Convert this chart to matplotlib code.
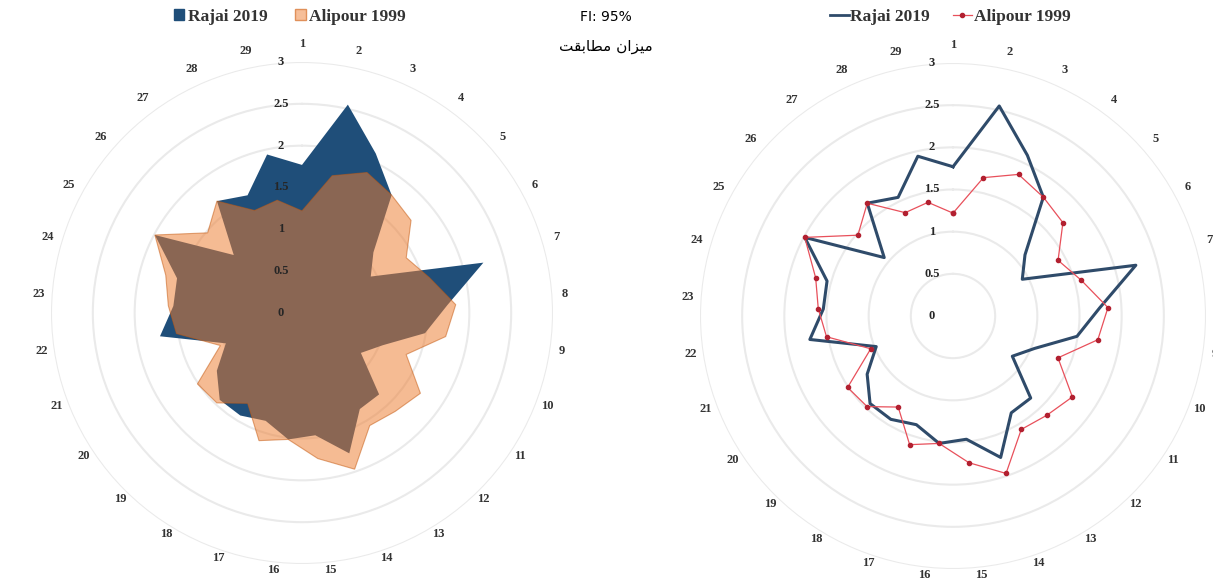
import numpy as np
import matplotlib
matplotlib.use("Agg")
from matplotlib import pyplot as plt
from matplotlib.patches import Patch
from matplotlib.lines import Line2D
from matplotlib.transforms import offset_copy

# Data (29 categories)
categories = [str(i) for i in range(1, 30)]
rajai_2019 = [1.77, 2.55, 2.10, 1.77, 1.12, 0.93, 2.25, 1.74, 1.49, 1.04,
              0.85, 1.34, 1.34, 1.77, 1.47, 1.52, 1.36, 1.43, 1.43, 1.23,
              0.98, 1.72, 1.54, 1.55, 1.99, 1.07, 1.68, 1.55, 1.94]
alipour_1999 = [1.22, 1.68, 1.85, 1.77, 1.71, 1.41, 1.58, 1.84, 1.74, 1.34,
                1.71, 1.62, 1.57, 1.97, 1.75, 1.52, 1.61, 1.26, 1.48, 1.51,
                1.05, 1.52, 1.60, 1.69, 1.99, 1.48, 1.68, 1.35, 1.38]
r_ticks = [0, 0.5, 1, 1.5, 2, 2.5, 3]
r_tick_labels = ["0", "0.5", "1", "1.5", "2", "2.5", "3"]
fit_text = "FI: 95%"
# "میزان مطابقت" written with Arabic presentation forms in visual order
persian_label = "\uFE96\uFED8\uFE91\uFE8E\uFEC4\uFEE3 \uFEE5\uFE8D\uFEB0\uFBFF\uFEE3"

W, H = 1213, 581
SERIF = "Liberation Serif"
BLUE = "#1F4E79"
ORANGE = "#ED7D31"
LINE_BLUE = "#2F4B6A"
LINE_RED = "#E8505B"

theta = np.linspace(0, 2 * np.pi, len(categories), endpoint=False)
theta_c = np.append(theta, theta[0])
raj = np.append(rajai_2019, rajai_2019[0])
ali = np.append(alipour_1999, alipour_1999[0])

fig = plt.figure(figsize=(W / 100, H / 100), dpi=100)


def polar_axes(cx, cy, R):
    ax = fig.add_axes([(cx - R) / W, (H - cy - R) / H, 2 * R / W, 2 * R / H],
                      projection="polar")
    ax.set_theta_zero_location("N")
    ax.set_theta_direction(-1)
    ax.set_ylim(0, 3)
    ax.set_yticks(r_ticks[1:])
    ax.set_yticklabels([])
    ax.set_xticks([])
    ax.yaxis.grid(True, color="#EAEAEA", linewidth=1.5)
    ax.xaxis.grid(False)
    ax.spines["polar"].set_visible(False)
    ax.set_facecolor("none")
    # radial value labels, left of the vertical axis
    tr = offset_copy(ax.transData, fig=fig, x=-21, y=0, units="dots")
    for r, lab in zip(r_ticks, r_tick_labels):
        ax.text(0, r, lab, transform=tr, ha="center", va="center",
                fontsize=9, fontweight="bold", family=SERIF, color="#262626",
                zorder=5)
    # category labels round the outside
    tr2 = offset_copy(ax.transData, fig=fig, x=0, y=5, units="dots")
    for t, lab in zip(theta, categories):
        ax.text(t, 3.15, lab, transform=tr2, ha="center", va="center",
                fontsize=9, fontweight="bold", family=SERIF, color="#333333",
                clip_on=False)
    return ax


# Left: filled radar
ax1 = polar_axes(302, 313, 251)
ax1.fill(theta_c, raj, color=BLUE, zorder=2, linewidth=0)
ax1.fill(theta_c, ali, facecolor=ORANGE, alpha=0.52, zorder=3,
         edgecolor="#C55A11", linewidth=0.8)

# Right: line radar
ax2 = polar_axes(953, 316, 253)
ax2.plot(theta_c, raj, color=LINE_BLUE, linewidth=2.2, zorder=3)
ax2.plot(theta_c, ali, color=LINE_RED, linewidth=0.9, marker="o",
         markersize=3, markerfacecolor="#B22030", markeredgecolor="#B22030",
         zorder=4)

# Legends
leg_font = {"family": SERIF, "weight": "bold", "size": 12.5}
h1 = [Patch(facecolor=BLUE, edgecolor=BLUE),
      Patch(facecolor="#F6BE98", edgecolor="#E0905A")]
fig.legend(h1, ["Rajai 2019", "Alipour 1999"], loc="center",
           bbox_to_anchor=(290 / W, 1 - 17 / H), ncol=2, frameon=False,
           prop=leg_font, handlelength=0.6, handleheight=0.6,
           handletextpad=0.2, columnspacing=1.6, labelcolor="#333333")
h2 = [Line2D([], [], color=LINE_BLUE, linewidth=2),
      Line2D([], [], color=LINE_RED, linewidth=0.9, marker="o", markersize=3,
             markerfacecolor="#B22030", markeredgecolor="#B22030")]
fig.legend(h2, ["Rajai 2019", "Alipour 1999"], loc="center",
           bbox_to_anchor=(950 / W, 1 - 17 / H), ncol=2, frameon=False,
           prop=leg_font, handlelength=1.1, handletextpad=0.1,
           columnspacing=1.3, labelcolor="#333333")

# Centre annotation
fig.text(606 / W, 1 - 17 / H, fit_text, ha="center", va="center",
         fontsize=10, family="DejaVu Sans", color="black")
fig.text(606 / W, 1 - 47 / H, persian_label, ha="center", va="center",
         fontsize=11, family="DejaVu Sans", color="black")

fig.savefig("out.png", dpi=100)
